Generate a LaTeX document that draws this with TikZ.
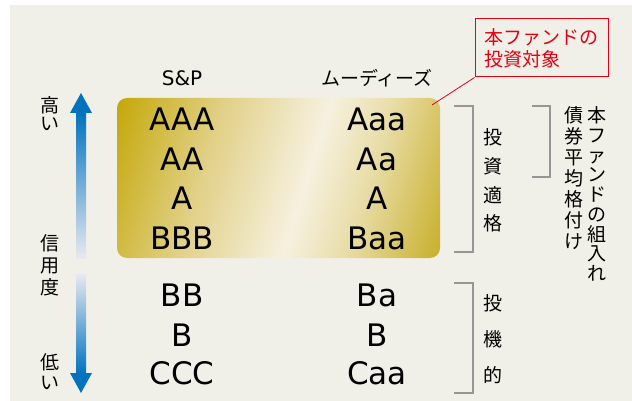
\documentclass[tikz,border=0pt]{standalone}
\usepackage{fontspec}
\setmainfont{DejaVu Sans}
\newfontfamily\jp{Noto Sans CJK JP}
\definecolor{bg}{RGB}{241,240,232}
\definecolor{gold0}{RGB}{194,166,0}
\definecolor{gold1}{RGB}{225,208,135}
\definecolor{gold2}{RGB}{246,241,224}
\definecolor{gold3}{RGB}{232,220,165}
\definecolor{gold4}{RGB}{198,172,34}
\definecolor{arrowblue}{RGB}{0,114,190}
\definecolor{arrowpale}{RGB}{232,233,240}
\definecolor{brgray}{RGB}{150,150,150}
\definecolor{fundred}{RGB}{230,0,18}
\pgfdeclarehorizontalshading{goldsh}{100bp}{color(0bp)=(gold0); color(23bp)=(gold0); color(39bp)=(gold1); color(54bp)=(gold2); color(63bp)=(gold3); color(77bp)=(gold4); color(100bp)=(gold4)}
\begin{document}
\begin{tikzpicture}[x=1pt,y=-1pt,
  rating/.style={font=\fontsize{31}{31}\selectfont, inner sep=0pt},
  colhead/.style={inner sep=0pt},
  jpv/.style={font=\jp\fontsize{19}{#1}\selectfont, align=center, inner sep=0pt},
  bracketline/.style={draw=brgray, line width=1.5pt},
  targetbox/.style={draw=fundred, line width=1pt, text=fundred, font=\jp\fontsize{19}{22}\selectfont, align=left, minimum width=133pt, minimum height=58pt, inner sep=0pt},
  leader/.style={draw=fundred, line width=0.8pt}
]
\useasboundingbox (0,0) rectangle (632,401);
\fill[white] (0,0) rectangle (632,401);
\fill[bg] (10,5) rectangle (632,401);
% gold area
\begin{scope}
  \clip[rounded corners=10pt] (117,98) rectangle (440,258);
  \shade[shading=goldsh, shading angle=-17.4] (108.5,8) rectangle (448.5,348);
\end{scope}
% credit arrow
\shade[top color=arrowblue, bottom color=arrowpale] (76,112) rectangle (86,258);
\fill[arrowblue] (81,93) -- (92,113) -- (70,113) -- cycle;
\shade[top color=arrowpale, bottom color=arrowblue] (76,274) rectangle (86,374);
\fill[arrowblue] (81,393) -- (92,373) -- (70,373) -- cycle;
% headers
\node[colhead, font=\fontsize{20}{20}\selectfont] (sp) at (182,78) {S\&P};
\node[colhead, font=\jp\fontsize{19}{19}\selectfont] (moodys) at (377,78) {ムーディーズ};
% ratings
\node[rating] (s1) at (182,119) {AAA};
\node[rating] (s2) at (182,159) {AA};
\node[rating] (s3) at (182,198) {A};
\node[rating] (s4) at (182,238) {BBB};
\node[rating] (s5) at (182,295) {BB};
\node[rating] (s6) at (182,335) {B};
\node[rating] (s7) at (182,373) {CCC};
\node[rating] (m1) at (377,119) {Aaa};
\node[rating] (m2) at (377,159) {Aa};
\node[rating] (m3) at (377,198) {A};
\node[rating] (m4) at (377,238) {Baa};
\node[rating] (m5) at (377,295) {Ba};
\node[rating] (m6) at (377,335) {B};
\node[rating] (m7) at (377,373) {Caa};
% target box
\node[targetbox] (target) at (541.5,48) {本ファンドの\\投資対象};
\coordinate (leadend) at (432,105);
\draw[leader] (target.south west) -- (leadend);
% brackets
\draw[bracketline] (454,106) -- (473,106) -- (473,252) -- (454,252);
\draw[bracketline] (454,283) -- (473,283) -- (473,393) -- (454,393);
\draw[bracketline] (532,106) -- (550,106) -- (550,177) -- (532,177);
% vertical texts
\node[jpv=28.6] (grade) at (493,180.5) {投\\資\\適\\格};
\node[jpv=36] (spec) at (493,339) {投\\機\\的};
\node[jpv=18] (high) at (50,114) {高\\い};
\node[jpv=22] (cred) at (50,265) {信\\用\\度};
\node[jpv=20] (low) at (50,372) {低\\い};
\node[jpv=19.7] (fundin) at (597,194) {本\\フ\\ァ\\ン\\ド\\の\\組\\入\\れ};
\node[jpv=21] (avg) at (574,178.5) {債\\券\\平\\均\\格\\付\\け};
\end{tikzpicture}
\end{document}
